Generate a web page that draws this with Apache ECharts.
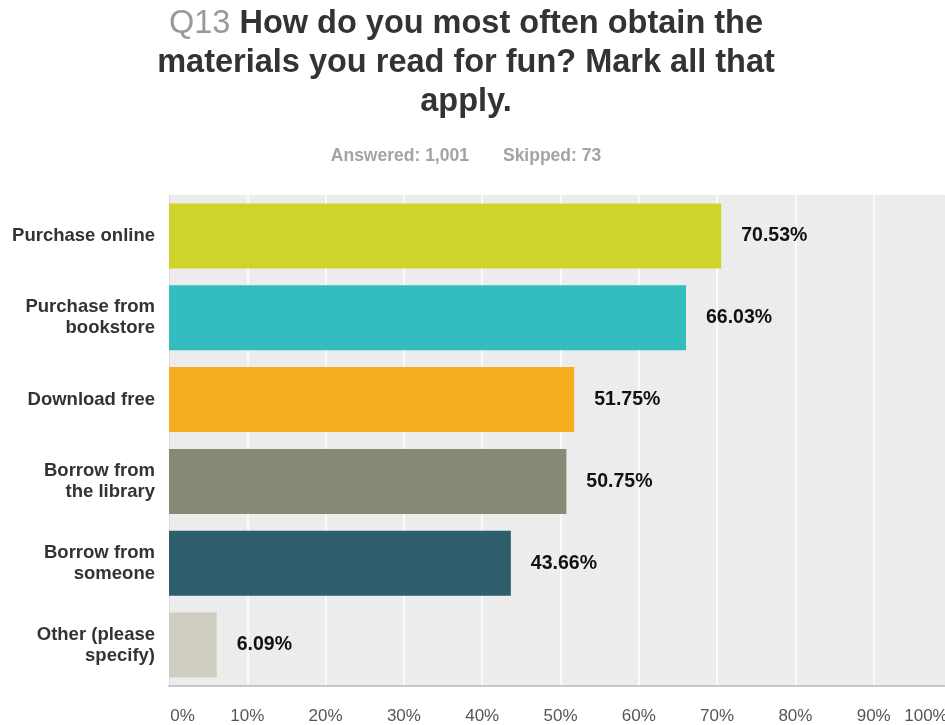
<!DOCTYPE html>
<html>
<head>
<meta charset="utf-8">
<script src="https://cdn.jsdelivr.net/npm/echarts@6/dist/echarts.min.js"></script>
<style>
  html, body { margin: 0; padding: 0; background: #fff; }
  #chart { width: 945px; height: 725px; }
</style>
</head>
<body>
<div id="chart"></div>
<script>
// Survey answers (share of respondents, %)
const categories = [
  'Purchase online',
  'Purchase from\nbookstore',
  'Download free',
  'Borrow from\nthe library',
  'Borrow from\nsomeone',
  'Other (please\nspecify)'
];
const values = [70.53, 66.03, 51.75, 50.75, 43.66, 6.09];
const barColors = ['#cfd42a', '#33bdbf', '#f6ae1f', '#888a78', '#2e5e6b', '#cfcdbf'];
const tickValues = [0, 10, 20, 30, 40, 50, 60, 70, 80, 90, 100];

// Light grey plot background with a fine white dot texture
function dotPattern() {
  const c = document.createElement('canvas');
  c.width = 8; c.height = 8;
  const g = c.getContext('2d');
  g.fillStyle = '#ececec';
  g.fillRect(0, 0, 8, 8);
  g.fillStyle = 'rgba(255,255,255,0.75)';
  g.fillRect(1, 1, 1, 1);
  g.fillRect(5, 5, 1, 1);
  return c;
}

const chart = echarts.init(document.getElementById('chart'), null, { renderer: 'canvas' });

chart.setOption({
  animation: false,
  backgroundColor: '#ffffff',
  title: [
    {
      text: '{q|Q13} How do you most often obtain the\nmaterials you read for fun? Mark all that\napply.',
      left: 461,
      top: 0,
      textAlign: 'center',
      textStyle: {
        fontFamily: 'Liberation Sans, Arial, sans-serif',
        fontSize: 32.5,
        fontWeight: 'bold',
        color: '#333333',
        lineHeight: 39,
        rich: {
          q: {
            fontFamily: 'Liberation Sans, Arial, sans-serif',
            fontSize: 32.5,
            fontWeight: 'normal',
            color: '#999999',
            lineHeight: 39
          }
        }
      }
    },
    {
      text: 'Answered: 1,001       Skipped: 73',
      left: 461,
      top: 142,
      textAlign: 'center',
      textStyle: {
        fontFamily: 'Liberation Sans, Arial, sans-serif',
        fontSize: 17.5,
        fontWeight: 'bold',
        color: '#a3a3a3'
      }
    }
  ],
  grid: {
    left: 169,
    right: -7,
    top: 195,
    bottom: 39,
    outerBoundsMode: 'none',
    containLabel: false,
    show: true,
    borderWidth: 0,
    backgroundColor: { image: dotPattern(), repeat: 'repeat' }
  },
  xAxis: {
    type: 'value',
    min: 0,
    max: 100,
    interval: 10,
    axisLine: { show: true, lineStyle: { color: '#c8c8c8', width: 2 } },
    axisTick: { show: false },
    splitLine: { show: true, lineStyle: { color: '#ffffff', width: 1.5 } },
    axisLabel: {
      margin: 22,
      hideOverlap: false,
      fontFamily: 'Liberation Sans, Arial, sans-serif',
      fontSize: 17,
      color: '#555555',
      formatter: function (v) {
        if (v === 0) return '{first|0%}';
        if (v === 100) return '{last|100%}';
        return v + '%';
      },
      rich: {
        first: { fontSize: 17, color: '#555555', padding: [0, 0, 0, 27] },
        last: { fontSize: 17, color: '#555555', padding: [0, 52, 0, 0] }
      }
    }
  },
  yAxis: {
    type: 'category',
    data: categories,
    inverse: true,
    axisLine: { show: true, lineStyle: { color: '#dddddd', width: 1 } },
    axisTick: { show: false },
    splitLine: { show: false },
    axisLabel: {
      margin: 14,
      fontFamily: 'Liberation Sans, Arial, sans-serif',
      fontSize: 18.5,
      fontWeight: 'bold',
      color: '#333333',
      lineHeight: 21,
      align: 'right'
    }
  },
  series: [
    {
      type: 'bar',
      data: values.map((v, i) => ({ value: v, itemStyle: { color: barColors[i] } })),
      barWidth: 65,
      label: {
        show: true,
        position: 'right',
        distance: 20,
        fontFamily: 'Liberation Sans, Arial, sans-serif',
        fontSize: 19.5,
        fontWeight: 'bold',
        color: '#111111',
        formatter: function (p) { return p.value.toFixed(2) + '%'; }
      }
    }
  ]
});
</script>
</body>
</html>
